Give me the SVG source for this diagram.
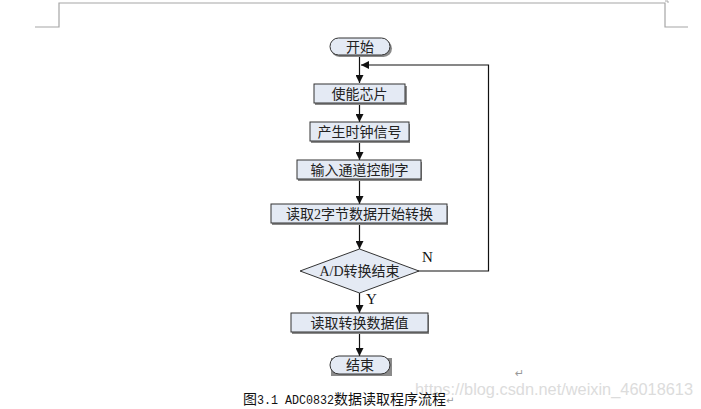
<svg xmlns="http://www.w3.org/2000/svg" width="701" height="409" viewBox="0 0 701 409">
<style>
.box{fill:#e4eaf4;stroke:#333;stroke-width:1}
.sh{fill:#8a8a8a}
.t{font-family:"Liberation Serif","Noto Sans CJK SC",serif;font-size:14px;fill:#222;text-anchor:middle}
.lbl{font-family:"Liberation Serif",serif;font-size:15px;fill:#111}
.ln{stroke:#111;stroke-width:1.2;fill:none}
.pg{stroke:#a6a6a6;stroke-width:1.2;fill:none}
</style>
<defs>
<marker id="ah" viewBox="0 0 10 10" refX="10" refY="5" markerWidth="8" markerHeight="8" markerUnits="userSpaceOnUse" orient="auto">
<path d="M0,0 L10,5 L0,10 z" fill="#111"/>
</marker>
</defs>
<g id="page">
<path class="pg" d="M35,27 H59 V3 H665 V27 H688 M665,3 V27"/>
<path d="M665,1 h3 v2" stroke="#aaa" stroke-width="1" fill="none"/>
</g>
<g id="connectors">
<path class="ln" d="M359.5,55 V83" marker-end="url(#ah)"/>
<path class="ln" d="M359.5,103 V122" marker-end="url(#ah)"/>
<path class="ln" d="M359.5,141 V160" marker-end="url(#ah)"/>
<path class="ln" d="M359.5,180 V204" marker-end="url(#ah)"/>
<path class="ln" d="M359.5,224 V249" marker-end="url(#ah)"/>
<path class="ln" d="M359.5,293 V313" marker-end="url(#ah)"/>
<path class="ln" d="M359.5,333 V356" marker-end="url(#ah)"/>
<path class="ln" d="M418,271 H488.5 V65 H361" marker-end="url(#ah)"/>
</g>
<g id="start">
<rect class="sh" x="331" y="40" width="61" height="17" rx="8.5"/>
<rect class="box" x="330" y="38" width="60" height="17" rx="8.5"/>
<text class="t" x="360" y="51.5">开始</text>
</g>
<g id="enable">
<rect class="sh" x="315" y="86" width="92" height="19"/>
<rect class="box" x="314" y="84" width="91" height="19"/>
<text class="t" x="359.5" y="98.5">使能芯片</text>
</g>
<g id="clock">
<rect class="sh" x="311" y="124" width="99" height="19"/>
<rect class="box" x="310" y="122" width="99" height="19"/>
<text class="t" x="359.5" y="136.5">产生时钟信号</text>
</g>
<g id="channel">
<rect class="sh" x="298" y="162" width="124" height="19"/>
<rect class="box" x="297" y="160" width="124" height="19"/>
<text class="t" x="359.5" y="174.5">输入通道控制字</text>
</g>
<g id="read2">
<rect class="sh" x="272" y="206" width="176" height="19"/>
<rect class="box" x="271" y="204" width="176" height="19"/>
<text class="t" x="359.5" y="218.5">读取2字节数据开始转换</text>
</g>
<g id="decision">
<path class="box" d="M359.5,249 L419,271 L359.5,293 L300,271 Z"/>
<text class="t" x="359.5" y="276">A/D转换结束</text>
<text class="lbl" x="422" y="262">N</text>
<text class="lbl" x="366" y="304">Y</text>
</g>
<g id="readval">
<rect class="sh" x="292" y="315" width="137" height="19"/>
<rect class="box" x="291" y="313" width="137" height="19"/>
<text class="t" x="359.5" y="327.5">读取转换数据值</text>
</g>
<g id="end">
<rect class="sh" x="331" y="358" width="61" height="18"/>
<rect class="box" x="330" y="356" width="60" height="18" rx="9"/>
<text class="t" x="360" y="370">结束</text>
</g>
<g id="caption">
<text x="515" y="377" font-family="DejaVu Sans,sans-serif" font-size="11" fill="#999">↵</text>
<text x="415" y="395" font-family="Liberation Sans,Arial,sans-serif" font-size="16" fill="#dcdcdc" textLength="278" lengthAdjust="spacingAndGlyphs">https://blog.csdn.net/weixin_46018613</text>
<text x="243" y="404" font-family="Noto Sans CJK SC,sans-serif" font-size="14" fill="#111">图<tspan font-family="Liberation Mono,monospace" font-size="12" textLength="77" lengthAdjust="spacingAndGlyphs">3.1 ADC0832</tspan>数据读取程序流程<tspan font-family="DejaVu Sans,sans-serif" font-size="10" fill="#999">↵</tspan></text>
</g>
</svg>
